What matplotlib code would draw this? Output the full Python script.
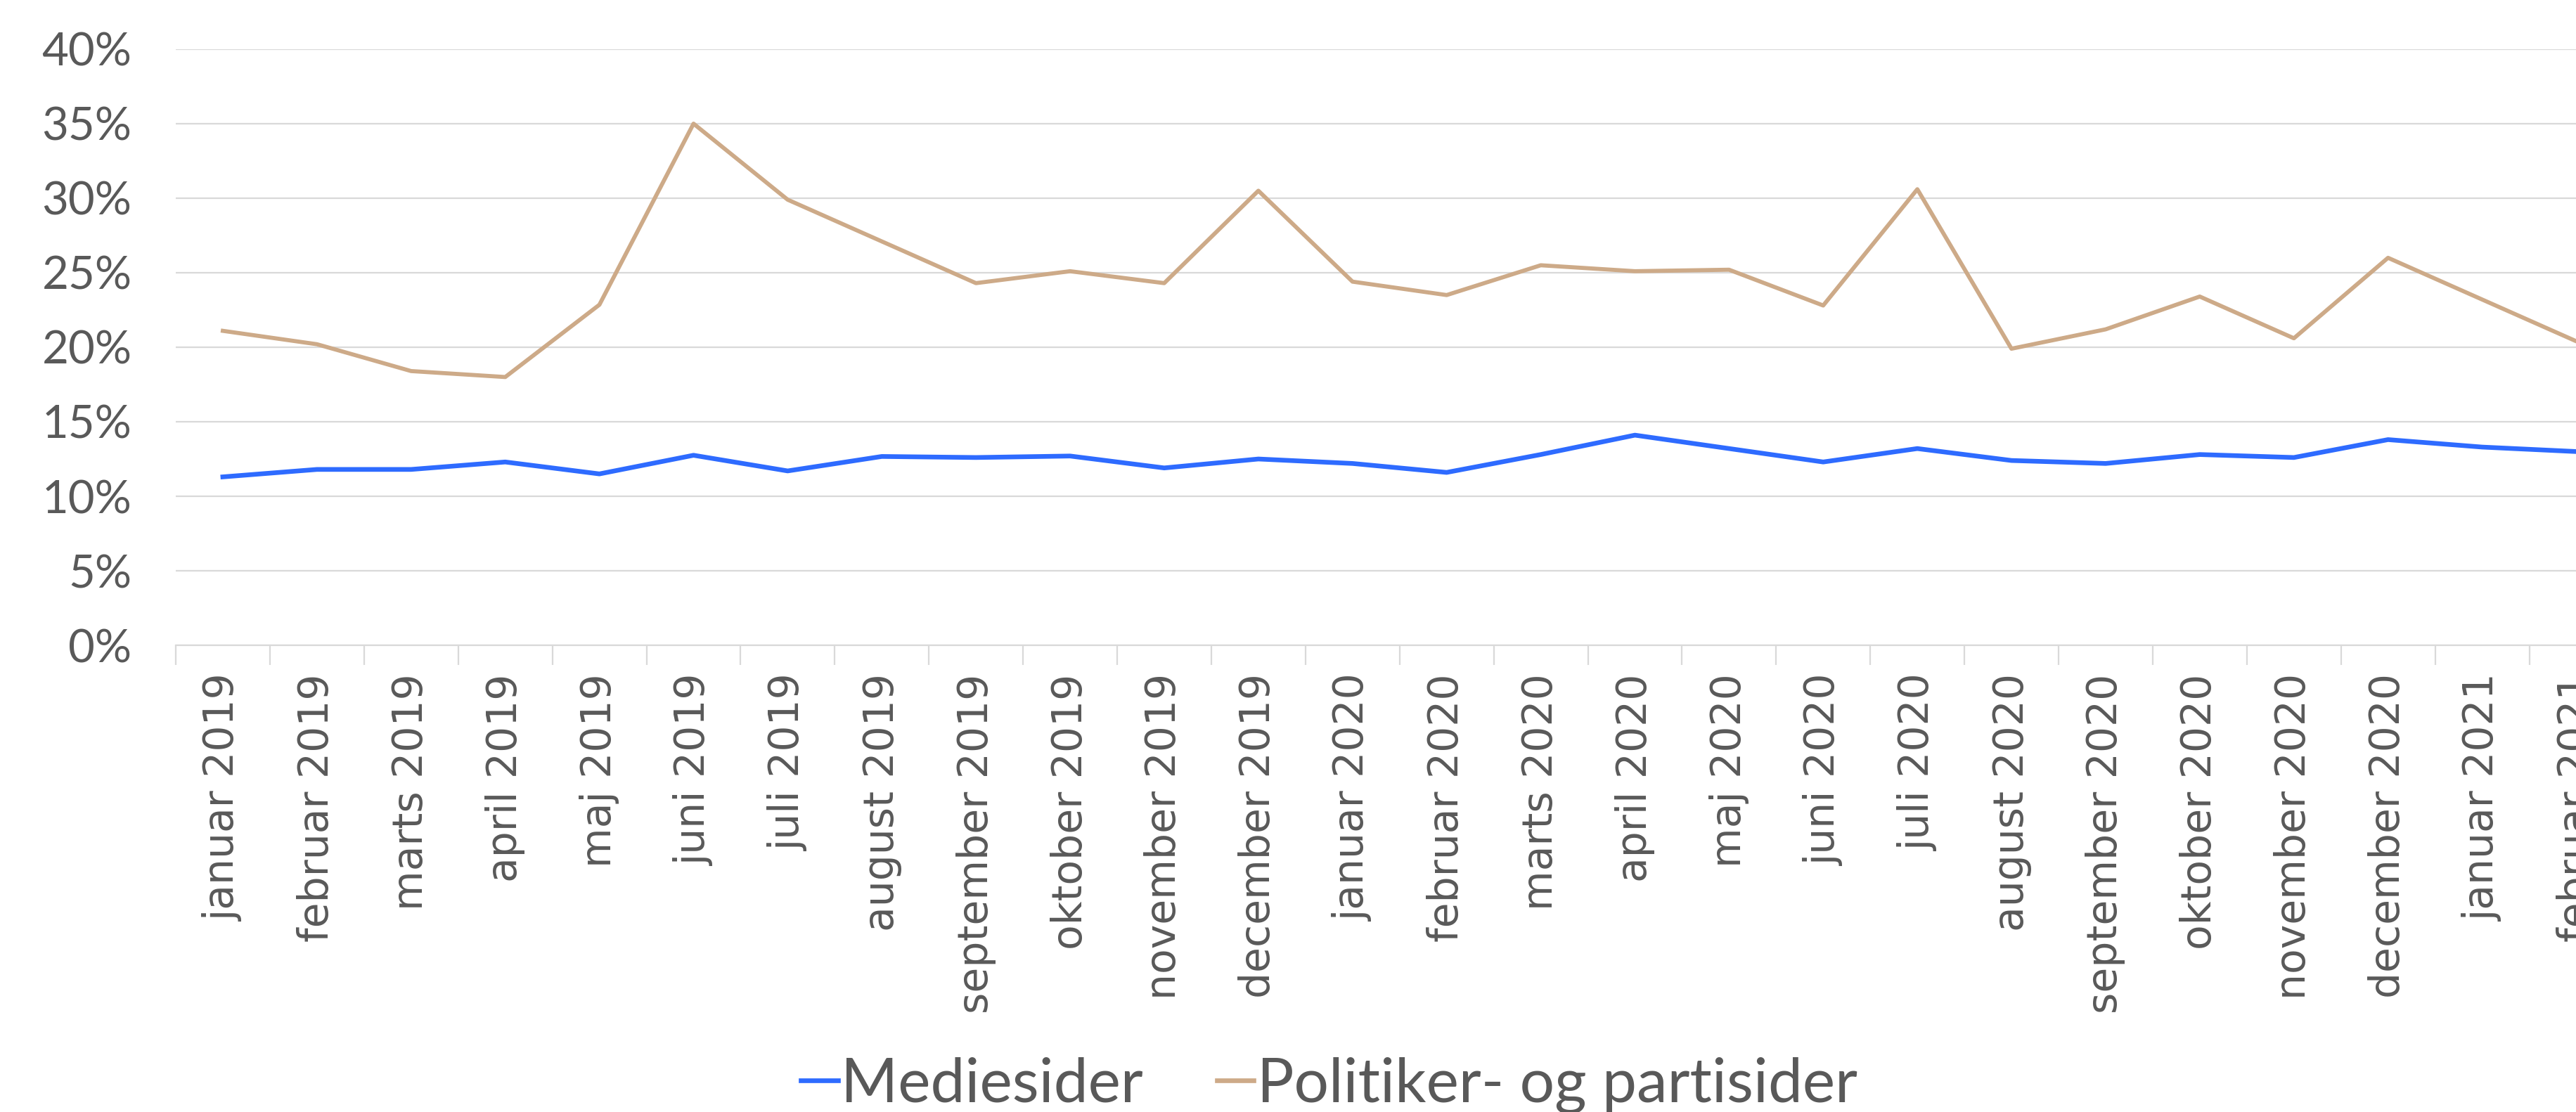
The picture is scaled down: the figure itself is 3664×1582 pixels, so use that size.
import matplotlib.pyplot as plt
from matplotlib.ticker import FuncFormatter, FixedLocator

months = ['januar 2019', 'februar 2019', 'marts 2019', 'april 2019', 'maj 2019', 'juni 2019',
          'juli 2019', 'august 2019', 'september 2019', 'oktober 2019', 'november 2019',
          'december 2019', 'januar 2020', 'februar 2020', 'marts 2020', 'april 2020',
          'maj 2020', 'juni 2020', 'juli 2020', 'august 2020', 'september 2020',
          'oktober 2020', 'november 2020', 'december 2020', 'januar 2021', 'februar 2021']

mediesider = [11.3, 11.8, 11.8, 12.3, 11.5, 12.75, 11.7, 12.67, 12.6, 12.7, 11.9, 12.5,
              12.2, 11.6, 12.8, 14.1, 13.2, 12.3, 13.2, 12.4, 12.2, 12.8, 12.6, 13.8,
              13.3, 13.0]
politikere = [21.1, 20.2, 18.4, 18.0, 22.85, 35.0, 29.9, 27.1, 24.3, 25.1, 24.3, 30.5,
              24.4, 23.5, 25.5, 25.1, 25.2, 22.8, 30.6, 19.9, 21.2, 23.4, 20.6, 26.0,
              23.2, 20.4]

text_col = '#595959'
grid_col = '#d9d9d9'
plt.rcParams['font.family'] = ['Lato', 'DejaVu Sans']

fig = plt.figure(figsize=(36.64, 15.82), dpi=100)
n = len(months)
# axes runs a bit past the right edge of the figure, like the reference
ax = fig.add_axes([250 / 3664, 0.4197, n * 133.9 / 3664, 0.5361])

x = list(range(n))
ax.plot(x, mediesider, color='#2E6BFF', lw=4.8, label='Mediesider')
ax.plot(x, politikere, color='#CDAA88', lw=4.2, label='Politiker- og partisider')

ax.set_xlim(-0.5, n - 0.5)
ax.set_ylim(0, 40)
ax.set_yticks(range(0, 41, 5))
ax.yaxis.set_major_formatter(FuncFormatter(lambda v, p: f'{v:.0f}%'))
ax.grid(axis='y', color=grid_col, lw=1.6)
ax.set_axisbelow(True)

for s in ['top', 'right', 'left']:
    ax.spines[s].set_visible(False)
ax.spines['bottom'].set_color(grid_col)
ax.spines['bottom'].set_linewidth(1.6)

ax.set_xticks(x)
ax.set_xticklabels(months, rotation=90, va='top', ha='center', family='DejaVu Sans')
ax.xaxis.set_minor_locator(FixedLocator([i - 0.5 for i in range(n + 1)]))
ax.tick_params(axis='x', which='major', length=0, pad=29, labelsize=42, labelcolor=text_col)
ax.tick_params(axis='x', which='minor', length=20, width=1.6, color=grid_col)
ax.tick_params(axis='y', length=0, pad=45, labelsize=47, labelcolor=text_col)

leg = fig.legend(loc='center', bbox_to_anchor=(0.516, 0.024), ncol=2, frameon=False,
                 fontsize=63, handlelength=0.6, handletextpad=0.05, columnspacing=1.2,
                 labelcolor=text_col)
for h in leg.get_lines():
    h.set_linewidth(4.8)

fig.savefig('out.png', dpi=100)
